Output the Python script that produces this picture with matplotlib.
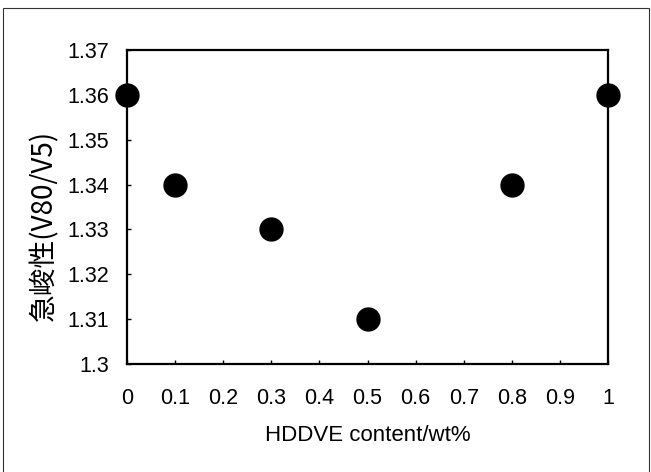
import matplotlib.pyplot as plt
from matplotlib.patches import Rectangle

# data
content = [0, 0.1, 0.3, 0.5, 0.8, 1.0]
steepness = [1.36, 1.34, 1.33, 1.31, 1.34, 1.36]

x_ticks = [0, 0.1, 0.2, 0.3, 0.4, 0.5, 0.6, 0.7, 0.8, 0.9, 1.0]
x_tick_labels = ["0", "0.1", "0.2", "0.3", "0.4", "0.5", "0.6", "0.7", "0.8", "0.9", "1"]
y_ticks = [1.30, 1.31, 1.32, 1.33, 1.34, 1.35, 1.36, 1.37]
y_tick_labels = ["1.3", "1.31", "1.32", "1.33", "1.34", "1.35", "1.36", "1.37"]

plt.rcParams['font.family'] = ['Liberation Sans', 'Noto Sans CJK JP', 'DejaVu Sans']

W, H = 651, 472
fig = plt.figure(figsize=(W / 100, H / 100), dpi=100)
ax = fig.add_axes([127 / W, 1 - 364 / H, (608 - 127) / W, (364 - 50) / H])

# outer frame of the scanned chart
fig.patches.append(Rectangle((3 / W, -0.05), (649 - 3) / W, 1.05 - 8 / H,
                             transform=fig.transFigure, fill=False,
                             edgecolor='#333333', linewidth=0.8))

ax.plot(content, steepness, 'o', color='black', markersize=16.5, clip_on=False, zorder=5)

ax.set_xlim(0, 1)
ax.set_ylim(1.30, 1.37)
ax.set_xticks(x_ticks)
ax.set_xticklabels(x_tick_labels)
ax.set_yticks(y_ticks)
ax.set_yticklabels(y_tick_labels)

for s in ax.spines.values():
    s.set_linewidth(1.6)
ax.tick_params(direction='in', length=3, width=1, labelsize=15.5)
ax.tick_params(axis='x', pad=17)
ax.tick_params(axis='y', pad=13)

ax.set_xlabel("HDDVE content/wt%", fontsize=16, labelpad=12)
ax.set_ylabel("急峻性(V80/V5)", fontsize=20,
              family=['Noto Sans CJK JP', 'Liberation Sans'])
ax.yaxis.set_label_coords(-0.14, 0.44)

fig.savefig("out.png", dpi=100)
